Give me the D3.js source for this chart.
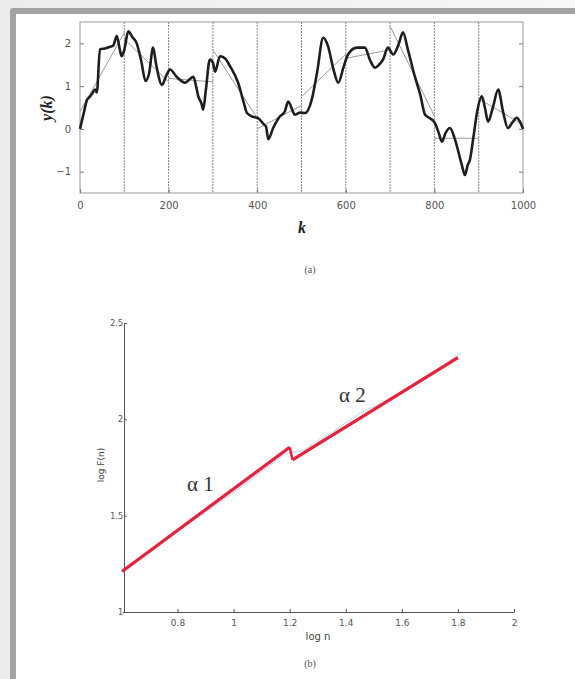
<!DOCTYPE html>
<html>
<head>
<meta charset="utf-8">
<script src="https://cdn.jsdelivr.net/npm/d3@7"></script>
<style>
  body { margin: 0; background: #fff; }
  .tick text { fill: #555; }
</style>
</head>
<body>
<div id="chart"></div>
<script>
// profile y(k)
var kVals = [0, 8, 16, 22, 27, 34, 38, 45, 56, 68, 75, 83, 90, 94, 100, 109, 118, 128, 138, 148,
  156, 165, 172, 185, 195, 203, 218, 237, 256, 262, 267, 274, 278, 284, 293, 300, 305, 316, 327, 339,
  357, 370, 377, 391, 402, 413, 420, 425, 436, 451, 462, 470, 481, 485, 497, 508, 523, 535, 549, 560,
  572, 583, 595, 605, 625, 643, 655, 666, 675, 684, 695, 707, 720, 729, 740, 756, 768, 779, 790, 801,
  810, 817, 825, 835, 845, 853, 862, 869, 875, 880, 888, 896, 907, 914, 921, 932, 944, 955, 966, 976,
  986, 994, 1000];
var yVals = [0, 0.35, 0.68, 0.75, 0.82, 0.92, 0.85, 1.86, 1.88, 1.92, 1.95, 2.17, 1.85, 1.7, 1.85, 2.28, 2.15, 2.0, 1.6, 1.12,
  1.3, 1.9, 1.5, 1.03, 1.25, 1.39, 1.22, 1.08, 1.22, 1.0, 0.76, 0.6, 0.45, 0.9, 1.62, 1.55, 1.34, 1.7, 1.65, 1.46,
  1.08, 0.6, 0.37, 0.28, 0.25, 0.13, 0.05, -0.24, 0.02, 0.29, 0.4, 0.64, 0.4, 0.33, 0.38, 0.37, 0.68, 1.31, 2.13, 1.93,
  1.4, 1.08, 1.45, 1.74, 1.9, 1.9, 1.6, 1.43, 1.5, 1.62, 1.9, 1.74, 2.0, 2.26, 1.86, 1.22, 0.8, 0.33, 0.25, 0.14,
  -0.1, -0.3, -0.1, 0.02, -0.2, -0.49, -0.85, -1.08, -0.85, -0.73, -0.2, 0.37, 0.76, 0.5, 0.17, 0.5, 0.92, 0.4, 0.02, 0.15,
  0.26, 0.15, 0];

// local linear trends, one per box of 100
var boxStart = [0, 100, 200, 300, 400, 500, 600, 700, 800, 900];
var trendStart = [0.4, 2.1, 1.18, 1.85, 0.0, 0.75, 1.65, 2.4, -0.22, 0.7];
var trendEnd = [2.25, 1.1, 1.1, 0.25, 0.55, 1.75, 1.85, 0.3, -0.22, 0.1];

var kTicks = [0, 200, 400, 600, 800, 1000];
var yTicks = [-1, 0, 1, 2];

// log F(n) vs log n
var fitLogN = [[0.602, 1.2], [1.21, 1.8]];
var fitLogF = [[1.21, 1.855], [1.79, 2.32]];
var dotLogN = [0.62, 0.7, 0.8, 0.9, 1.0, 1.1, 1.18, 1.25, 1.35, 1.45, 1.55, 1.65, 1.75, 1.81];
var dotLogF = [1.235, 1.31, 1.42, 1.52, 1.62, 1.73, 1.82, 1.84, 1.93, 2.03, 2.1, 2.18, 2.28, 2.345];
var nTicks = [0.8, 1, 1.2, 1.4, 1.6, 1.8, 2];
var fTicks = [1, 1.5, 2, 2.5];

var svg = d3.select("#chart").append("svg")
    .attr("width", 575)
    .attr("height", 679)

// page frame
var grad = svg.append("defs").append("linearGradient")
    .attr("id", "side")
grad.append("stop").attr("offset", "0%").attr("stop-color", "#ececec")
grad.append("stop").attr("offset", "100%").attr("stop-color", "#f7f7f7")
svg.append("rect").attr("width", 575).attr("height", 679).attr("fill", "url(#side)")
svg.append("rect")
    .attr("x", 10).attr("y", 8)
    .attr("width", 600).attr("height", 700)
    .attr("rx", 3)
    .attr("fill", "#a3a3a3")
svg.append("rect")
    .attr("x", 16).attr("y", 14)
    .attr("width", 600).attr("height", 700)
    .attr("fill", "#fff")

// ---------- (a) ----------
var xa = d3.scaleLinear().domain([0, 1000]).range([80, 523]);
var ya = d3.scaleLinear().domain([-1.5, 2.5]).range([193, 22]);

var plotA = svg.append("g")

// dotted box lines
plotA.selectAll(".vgrid")
    .data(d3.range(100, 1000, 100))
    .enter().append("line")
    .attr("x1", d => xa(d)).attr("x2", d => xa(d))
    .attr("y1", ya(2.5)).attr("y2", ya(-1.5))
    .attr("stroke", "#888")
    .attr("stroke-width", 1)
    .attr("stroke-dasharray", "2,1")

plotA.append("rect")
    .attr("x", xa(0)).attr("y", ya(2.5))
    .attr("width", xa(1000) - xa(0))
    .attr("height", ya(-1.5) - ya(2.5))
    .attr("fill", "none")
    .attr("stroke", "#999")

plotA.append("g")
    .attr("transform", "translate(0," + ya(-1.5) + ")")
    .call(d3.axisBottom(xa).tickValues(kTicks).tickSize(-4).tickPadding(9).tickFormat(d3.format("d")))
    .call(g => g.select(".domain").remove())
    .call(g => g.selectAll("line").attr("stroke", "#777"))
    .selectAll("text").style("font-size", "10px").style("font-family", "DejaVu Sans")

plotA.append("g")
    .attr("transform", "translate(" + xa(0) + ",0)")
    .call(d3.axisLeft(ya).tickValues(yTicks).tickSize(-4).tickPadding(9).tickFormat(d => d < 0 ? "\u2212" + Math.abs(d) : d))
    .call(g => g.select(".domain").remove())
    .call(g => g.selectAll("line").attr("stroke", "#777"))
    .selectAll("text").style("font-size", "10px").style("font-family", "DejaVu Sans")

plotA.append("g")
    .attr("transform", "translate(" + xa(1000) + ",0)")
    .call(d3.axisRight(ya).tickValues(yTicks).tickSize(-4).tickFormat(""))
    .call(g => g.select(".domain").remove())
    .call(g => g.selectAll("line").attr("stroke", "#777"))

// trend segments
plotA.selectAll(".trend")
    .data(boxStart)
    .enter().append("line")
    .attr("x1", d => xa(d))
    .attr("x2", d => xa(d + 100))
    .attr("y1", (d, i) => ya(trendStart[i]))
    .attr("y2", (d, i) => ya(trendEnd[i]))
    .attr("stroke", "#999")
    .attr("stroke-width", 1)

var profile = d3.line()
    .x((d, i) => xa(kVals[i]))
    .y(d => ya(d))
    .curve(d3.curveMonotoneX)

plotA.append("path")
    .datum(yVals)
    .attr("d", profile)
    .attr("fill", "none")
    .attr("stroke", "#1e1e1e")
    .attr("stroke-width", 2.6)
    .attr("stroke-linejoin", "round")

plotA.append("text")
    .attr("x", 52).attr("y", 108)
    .attr("transform", "rotate(-90, 52, 108)")
    .attr("text-anchor", "middle")
    .style("font-family", "Liberation Serif")
    .style("font-size", "16px")
    .style("font-weight", "bold")
    .style("font-style", "italic")
    .attr("fill", "#222")
    .text("y(k)")

plotA.append("text")
    .attr("x", 302).attr("y", 233)
    .attr("text-anchor", "middle")
    .style("font-family", "Liberation Serif")
    .style("font-size", "16px")
    .style("font-weight", "bold")
    .style("font-style", "italic")
    .attr("fill", "#222")
    .text("k")

plotA.append("text")
    .attr("x", 310).attr("y", 273)
    .attr("text-anchor", "middle")
    .style("font-family", "Liberation Serif")
    .style("font-size", "10px")
    .attr("fill", "#555")
    .text("(a)")

// ---------- (b) ----------
var xb = d3.scaleLinear().domain([0.602, 2]).range([122, 514]);
var yb = d3.scaleLinear().domain([1, 2.5]).range([612, 323]);

var plotB = svg.append("g")

plotB.append("g")
    .attr("transform", "translate(0," + yb(1) + ")")
    .call(d3.axisBottom(xb).tickValues(nTicks).tickSize(-3).tickPadding(8).tickSizeOuter(0).tickFormat(d3.format("~g")))
    .call(g => g.select(".domain").attr("stroke", "#555"))
    .call(g => g.selectAll("line").attr("stroke", "#555"))
    .selectAll("text").style("font-size", "9px").style("font-family", "DejaVu Sans")

plotB.append("g")
    .attr("transform", "translate(" + (xb(0.602) + 2) + ",0)")
    .call(d3.axisLeft(yb).tickValues(fTicks).tickSize(-3).tickPadding(1).tickSizeOuter(0).tickFormat(d3.format("~g")))
    .call(g => g.select(".domain").attr("stroke", "#555"))
    .call(g => g.selectAll("line").attr("stroke", "#555"))
    .selectAll("text").style("font-size", "8px").style("font-family", "DejaVu Sans")

// data points under the fit
plotB.append("path")
    .datum(dotLogF)
    .attr("d", d3.line().x((d, i) => xb(dotLogN[i])).y(d => yb(d)))
    .attr("fill", "none")
    .attr("stroke", "#a9cde6")
    .attr("stroke-width", 2)
    .attr("stroke-dasharray", "1,1")

fitLogN.forEach(function (n, i) {
    plotB.append("line")
        .attr("x1", xb(n[0])).attr("x2", xb(n[1]))
        .attr("y1", yb(fitLogF[i][0])).attr("y2", yb(fitLogF[i][1]))
        .attr("stroke", "#e5223c")
        .attr("stroke-width", 3.2)
})
// small join at the crossover
plotB.append("line")
    .attr("x1", xb(1.2)).attr("x2", xb(1.21))
    .attr("y1", yb(1.855)).attr("y2", yb(1.79))
    .attr("stroke", "#e5223c")
    .attr("stroke-width", 2.5)

plotB.append("text")
    .attr("x", 187).attr("y", 491)
    .style("font-family", "Liberation Serif")
    .style("font-size", "21px")
    .attr("fill", "#333")
    .text("\u03b1 1")

plotB.append("text")
    .attr("x", 339).attr("y", 402)
    .style("font-family", "Liberation Serif")
    .style("font-size", "21px")
    .attr("fill", "#333")
    .text("\u03b1 2")

plotB.append("text")
    .attr("x", 104).attr("y", 465)
    .attr("transform", "rotate(-90, 104, 465)")
    .attr("text-anchor", "middle")
    .style("font-family", "DejaVu Sans")
    .style("font-size", "9px")
    .attr("fill", "#444")
    .text("log F(n)")

plotB.append("text")
    .attr("x", 318).attr("y", 640)
    .attr("text-anchor", "middle")
    .style("font-family", "DejaVu Sans")
    .style("font-size", "10px")
    .attr("fill", "#444")
    .text("log n")

plotB.append("text")
    .attr("x", 310).attr("y", 667)
    .attr("text-anchor", "middle")
    .style("font-family", "Liberation Serif")
    .style("font-size", "10px")
    .attr("fill", "#555")
    .text("(b)")
</script>
</body>
</html>
